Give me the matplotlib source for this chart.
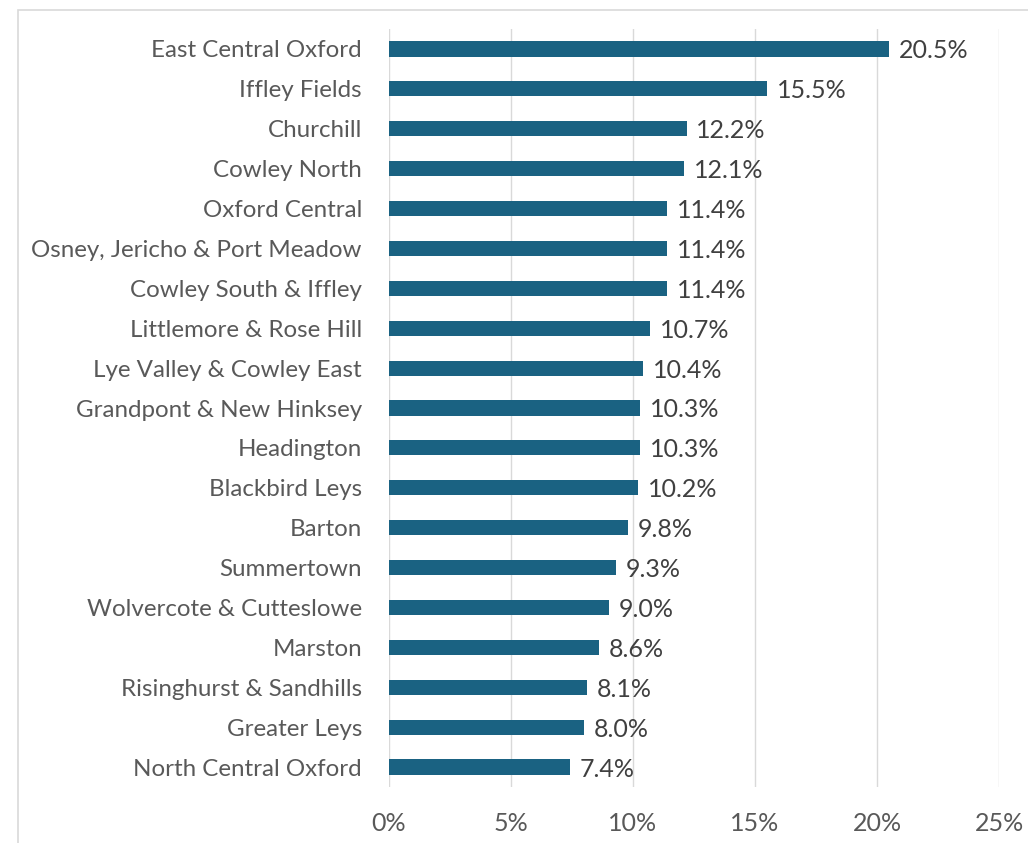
import matplotlib.pyplot as plt
from matplotlib.patches import Rectangle
from matplotlib.ticker import FuncFormatter

wards = ["East Central Oxford", "Iffley Fields", "Churchill", "Cowley North",
         "Oxford Central", "Osney, Jericho & Port Meadow", "Cowley South & Iffley",
         "Littlemore & Rose Hill", "Lye Valley & Cowley East", "Grandpont & New Hinksey",
         "Headington", "Blackbird Leys", "Barton", "Summertown",
         "Wolvercote & Cutteslowe", "Marston", "Risinghurst & Sandhills",
         "Greater Leys", "North Central Oxford"]
pct = [20.5, 15.5, 12.2, 12.1, 11.4, 11.4, 11.4, 10.7, 10.4, 10.3,
       10.3, 10.2, 9.8, 9.3, 9.0, 8.6, 8.1, 8.0, 7.4]
xticks = [0, 5, 10, 15, 20, 25]

plt.rcParams['font.family'] = ['Lato', 'DejaVu Sans']

fig = plt.figure(figsize=(10.28, 8.43), dpi=100)
fig.patches.append(Rectangle((18 / 1028, -0.1), 1.2, 1 - 10 / 843 + 0.1,
                             transform=fig.transFigure, fill=False,
                             edgecolor='#d9d9d9', linewidth=1.2))
ax = fig.add_axes([389 / 1028, 1 - 787 / 843, 610 / 1028, 758 / 843])

y = list(range(len(wards)))
ax.barh(y, pct, height=0.38, color='#1a6282', zorder=3)
for yi, v in zip(y, pct):
    ax.text(v + 0.4, yi + 0.05, f"{v:.1f}%", va='center', ha='left',
            fontsize=18, color='#404040')

ax.set_ylim(len(wards) - 0.5, -0.5)
ax.set_xlim(0, 25)
ax.set_yticks(y)
ax.set_yticklabels(wards, fontsize=17.4, color='#595959')
ax.set_xticks(xticks)
ax.xaxis.set_major_formatter(FuncFormatter(lambda v, p: f"{v:.0f}%"))
ax.tick_params(axis='x', labelsize=18, labelcolor='#595959', length=0, pad=18)
ax.tick_params(axis='y', length=0, pad=19.5)
ax.grid(axis='x', color='#d9d9d9', linewidth=1, zorder=0)
for s in ax.spines.values():
    s.set_visible(False)

fig.savefig("out.png", dpi=100)
